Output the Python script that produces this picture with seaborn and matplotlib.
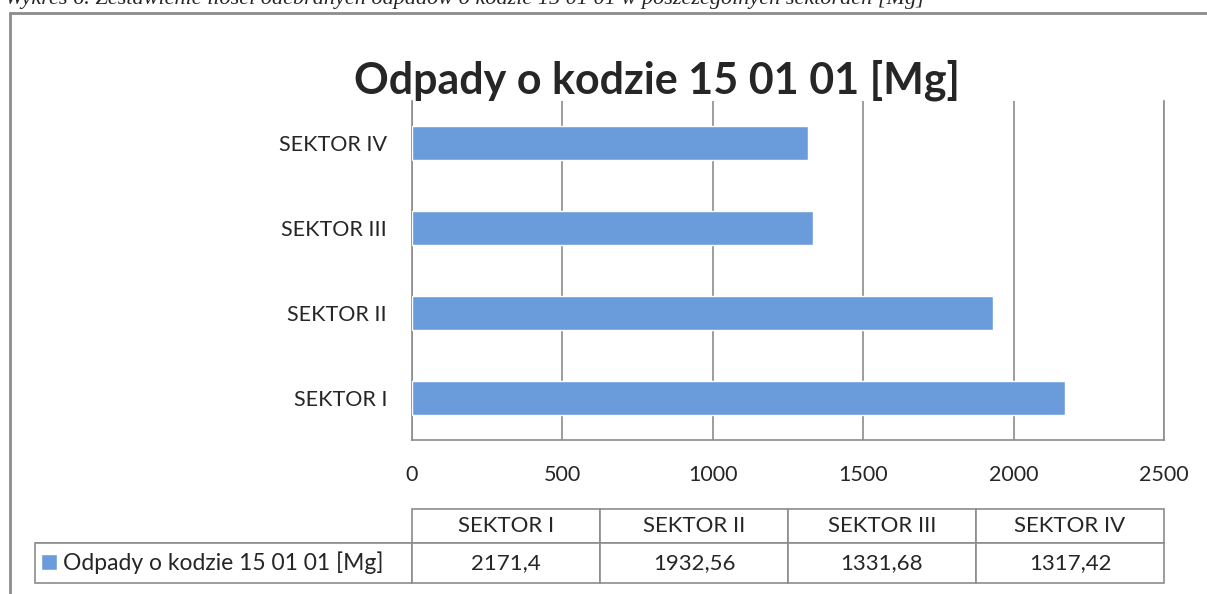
import seaborn as sns
import matplotlib.pyplot as plt
from matplotlib.lines import Line2D
import pandas as pd

# data
sectors = ['SEKTOR I', 'SEKTOR II', 'SEKTOR III', 'SEKTOR IV']
values = [2171.4, 1932.56, 1331.68, 1317.42]
value_labels = ['2171,4', '1932,56', '1331,68', '1317,42']
series_name = 'Odpady o kodzie 15 01 01 [Mg]'
x_ticks = [0, 500, 1000, 1500, 2000, 2500]

bar_color = '#6a9cdb'
line_color = '#8c8c8c'

sns.set_style('white')
plt.rcParams['font.family'] = ['Lato', 'DejaVu Sans']

data = pd.DataFrame({'sector': sectors, 'value': values})

fig = plt.figure(figsize=(12.07, 5.94), dpi=100)
ax = fig.add_axes([412 / 1207, 1 - 440 / 594, 752 / 1207, 339 / 594])

sns.barplot(data=data, x='value', y='sector', order=sectors[::-1],
            color=bar_color, width=0.4, saturation=1, ax=ax,
            label=series_name, zorder=3)

ax.set_xlim(0, 2500)
ax.set_xticks(x_ticks)
ax.set_xlabel('')
ax.set_ylabel('')
ax.xaxis.grid(True, color=line_color, lw=1.2, zorder=0)
ax.tick_params(axis='x', length=0, pad=18, labelsize=15.5)
ax.tick_params(axis='y', length=0, pad=18, labelsize=15.5)
for side in ['left', 'bottom', 'right']:
    ax.spines[side].set_color(line_color)
    ax.spines[side].set_linewidth(1.2)
ax.spines['top'].set_visible(False)

# data table under the axis
def ay(py):
    return (440 - py) / 339

tbl = ax.table(cellText=[[''] + value_labels],
               colLabels=[''] + sectors,
               colWidths=[377, 188, 188, 188, 188],
               cellLoc='center',
               bbox=[(35 - 412) / 752, ay(583), (1164 - 35) / 752, ay(509) - ay(583)])
tbl.auto_set_font_size(False)
for (r, c), cell in tbl.get_celld().items():
    cell.set_edgecolor(line_color)
    cell.set_linewidth(1.2)
    cell.get_text().set_fontsize(16)
    cell.set_height(34 if r == 0 else 40)
tbl[(0, 0)].visible_edges = 'B'

ax.legend(loc='center left', bbox_to_anchor=((41 - 412) / 752, ay(563)),
          frameon=False, fontsize=16.5, handlelength=0.7, handleheight=0.7,
          handletextpad=0.25, borderpad=0, borderaxespad=0)

fig.text(657 / 1207, 1 - 80 / 594, series_name, ha='center', va='center',
         fontsize=31, fontweight='bold')

# outer chart frame and the clipped caption above it
fig.add_artist(Line2D([10 / 1207, 10 / 1207], [0, 1 - 13 / 594],
                      transform=fig.transFigure, color=line_color, lw=2))
fig.add_artist(Line2D([10 / 1207, 1], [1 - 13 / 594, 1 - 13 / 594],
                      transform=fig.transFigure, color=line_color, lw=2))
fig.text(5 / 1207, 1 - 4 / 594,
         'Wykres 6. Zestawienie ilości odebranych odpadów o kodzie 15 01 01 w poszczególnych sektorach [Mg]',
         ha='left', va='baseline', fontsize=16, style='italic',
         family=['Liberation Serif', 'DejaVu Serif'])

plt.savefig('out.png', dpi=100)
